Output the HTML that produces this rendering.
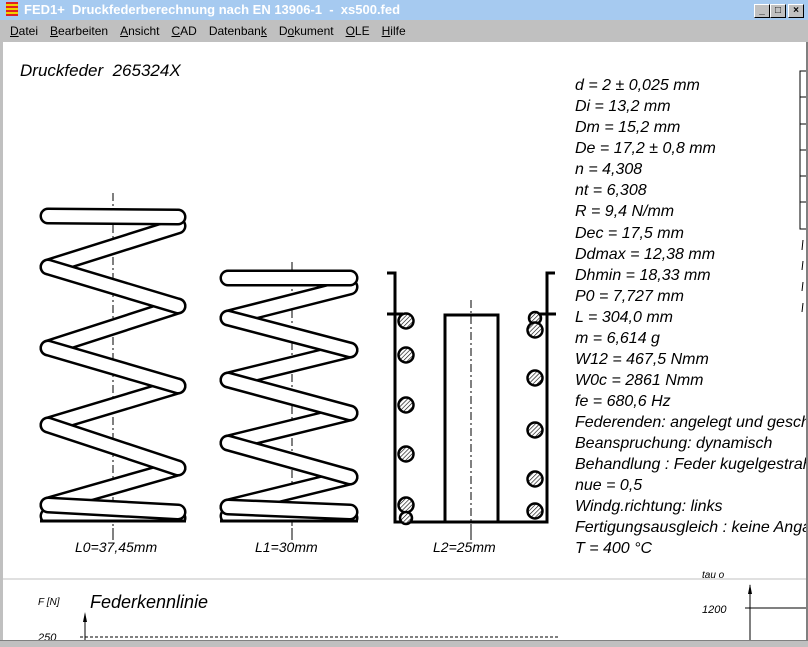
<!DOCTYPE html>
<html><head><meta charset="utf-8"><style>
html,body{margin:0;padding:0;width:808px;height:646px;overflow:hidden;background:#c0c0c0;font-family:"Liberation Sans",sans-serif}
.title{position:absolute;left:0;top:0;width:808px;height:20px;background:#a6caf0;color:#fff;font-weight:bold;font-size:13px;line-height:20px}
.menu{position:absolute;left:0;top:20px;width:808px;height:22px;background:#c0c0c0;font-size:12px;line-height:22px}
.menu span{margin-left:10px;margin-right:2px}
.client{position:absolute;left:3px;top:42px;width:803px;height:598px;background:#fff;overflow:hidden}
.btn{position:absolute;top:4px;width:14px;height:12px;background:#c0c0c0;border:1px solid;border-color:#fff #000 #000 #fff;font-size:10px;line-height:12px;text-align:center;color:#000;font-weight:bold}
</style></head><body>
<div class="title"><span style="display:inline-block;width:12px;height:14px;background:repeating-linear-gradient(#e02020 0 2px,#f0d000 2px 4px);vertical-align:-2px;margin:0 6px 0 6px"></span>FED1+&nbsp; Druckfederberechnung nach EN 13906-1&nbsp; - &nbsp;xs500.fed</div>
<div class="btn" style="left:754px">_</div><div class="btn" style="left:770px">□</div><div class="btn" style="left:788px">×</div>
<div class="menu"><span><u>D</u>atei</span><span><u>B</u>earbeiten</span><span><u>A</u>nsicht</span><span><u>C</u>AD</span><span>Datenban<u>k</u></span><span>D<u>o</u>kument</span><span><u>O</u>LE</span><span><u>H</u>ilfe</span></div>
<div class="client">
<svg width="803" height="598" viewBox="3 42 803 598" xmlns="http://www.w3.org/2000/svg" style="position:absolute;left:0;top:0">
<defs>
<pattern id="h" width="3" height="3" patternUnits="userSpaceOnUse" patternTransform="rotate(45)"><rect width="3" height="3" fill="#fff"/><line x1="0" y1="0" x2="0" y2="3" stroke="#000" stroke-width="1.2"/></pattern>
<clipPath id="c1"><rect x="0" y="200" width="380" height="322"/></clipPath>
</defs>
<g font-family="Liberation Sans" font-style="italic" fill="#000">
<text x="20" y="76" font-size="17">Druckfeder&#160; 265324X</text>
<g font-size="16">
<text x="575" y="90">d = 2 ± 0,025 mm</text>
<text x="575" y="111">Di = 13,2 mm</text>
<text x="575" y="132">Dm = 15,2 mm</text>
<text x="575" y="153">De = 17,2 ± 0,8 mm</text>
<text x="575" y="174">n = 4,308</text>
<text x="575" y="195">nt = 6,308</text>
<text x="575" y="216">R = 9,4 N/mm</text>
<text x="575" y="238">Dec = 17,5 mm</text>
<text x="575" y="259">Ddmax = 12,38 mm</text>
<text x="575" y="280">Dhmin = 18,33 mm</text>
<text x="575" y="301">P0 = 7,727 mm</text>
<text x="575" y="322">L = 304,0 mm</text>
<text x="575" y="343">m = 6,614 g</text>
<text x="575" y="364">W12 = 467,5 Nmm</text>
<text x="575" y="385">W0c = 2861 Nmm</text>
<text x="575" y="406">fe = 680,6 Hz</text>
<text x="575" y="427">Federenden: angelegt und geschliffen</text>
<text x="575" y="448">Beanspruchung: dynamisch</text>
<text x="575" y="469">Behandlung : Feder kugelgestrahlt</text>
<text x="575" y="490">nue = 0,5</text>
<text x="575" y="511">Windg.richtung: links</text>
<text x="575" y="532">Fertigungsausgleich : keine Angabe</text>
<text x="575" y="553">T = 400 °C</text>
<text x="75" y="552" font-size="14">L0=37,45mm</text>
<text x="255" y="552" font-size="14">L1=30mm</text>
<text x="433" y="552" font-size="14">L2=25mm</text>
</g>
<text x="90" y="608" font-size="18">Federkennlinie</text>
<text x="38" y="605" font-size="10">F [N]</text>
<text x="38" y="641" font-size="11">250</text>
<text x="702" y="578" font-size="10">tau o</text>
<text x="702" y="613" font-size="11">1200</text>
</g>
<rect x="800" y="71" width="10" height="158" fill="#fff" stroke="#000"/>
<g stroke="#000"><line x1="800" y1="97" x2="806" y2="97"/><line x1="800" y1="124" x2="806" y2="124"/><line x1="800" y1="150" x2="806" y2="150"/><line x1="800" y1="176" x2="806" y2="176"/><line x1="800" y1="202" x2="806" y2="202"/>
<line x1="803" y1="240" x2="802" y2="250"/><line x1="803" y1="261" x2="802" y2="270"/><line x1="803" y1="282" x2="802" y2="291"/><line x1="803" y1="303" x2="802" y2="312"/></g>
<line x1="0" y1="579" x2="808" y2="579" stroke="#c0c0c0" stroke-width="1"/>
<line x1="85" y1="614" x2="85" y2="646" stroke="#000"/>
<path d="M85,612 l-2,10 h4 z" fill="#000"/>
<line x1="80" y1="637" x2="560" y2="637" stroke="#000" stroke-dasharray="3,2"/>
<line x1="750" y1="585" x2="750" y2="646" stroke="#000"/>
<path d="M750,584 l-2,10 h4 z" fill="#000"/>
<line x1="745" y1="608" x2="808" y2="608" stroke="#000"/>
<g stroke="#000" stroke-dasharray="8,3,2,3">
<line x1="113" y1="193" x2="113" y2="528"/>
<line x1="292" y1="262" x2="292" y2="528"/>
<line x1="471" y1="300" x2="471" y2="538"/>
</g>
<g stroke="#000" stroke-width="1"><line x1="113" y1="528" x2="113" y2="540"/><line x1="292" y1="528" x2="292" y2="540"/><line x1="471" y1="528" x2="471" y2="540"/></g>
<g clip-path="url(#c1)" stroke-linecap="round" stroke-linejoin="round" fill="none">
<g stroke="#000" stroke-width="17">
<path d="M178,226 L48,267 M178,306 L48,348 M178,386 L48,425 M178,468 L48,505 M48,516 L178,518"/>
<path d="M350,287 L228,318 M350,350 L228,380 M350,413 L228,443 M350,477 L228,507 M228,516 L350,518"/>
</g>
<g stroke="#fff" stroke-width="12">
<path d="M178,226 L48,267 M178,306 L48,348 M178,386 L48,425 M178,468 L48,505 M48,516 L178,518"/>
<path d="M350,287 L228,318 M350,350 L228,380 M350,413 L228,443 M350,477 L228,507 M228,516 L350,518"/>
</g>
<g stroke="#000" stroke-width="17">
<path d="M48,216 L178,217 M48,267 L178,306 M48,348 L178,386 M48,425 L178,468 M48,505 L178,512"/>
<path d="M228,278 L350,278 M228,318 L350,350 M228,380 L350,413 M228,443 L350,477 M228,507 L350,512"/>
</g>
<g stroke="#fff" stroke-width="12">
<path d="M48,216 L178,217 M48,267 L178,306 M48,348 L178,386 M48,425 L178,468 M48,505 L178,512"/>
<path d="M228,278 L350,278 M228,318 L350,350 M228,380 L350,413 M228,443 L350,477 M228,507 L350,512"/>
</g>
</g>
<g stroke="#000" stroke-width="3" fill="none">
<line x1="40" y1="521" x2="186" y2="521"/>
<line x1="220" y1="521" x2="358" y2="521"/>
</g>
<g stroke="#000" stroke-width="3" fill="none">
<path d="M387,273 H395 V522 H547 V273 H555"/>
<line x1="387" y1="314" x2="403" y2="314"/>
<line x1="540" y1="314" x2="556" y2="314"/>
<path d="M445,522 V315 H498 V522"/>
</g>
<g stroke="#000" stroke-width="2.5" fill="url(#h)">
<circle cx="406" cy="321" r="7.5"/><circle cx="406" cy="355" r="7.5"/><circle cx="406" cy="405" r="7.5"/><circle cx="406" cy="454" r="7.5"/><circle cx="406" cy="505" r="7.5"/><circle cx="406" cy="518" r="6"/>
<circle cx="535" cy="318" r="6"/><circle cx="535" cy="330" r="7.5"/><circle cx="535" cy="378" r="7.5"/><circle cx="535" cy="430" r="7.5"/><circle cx="535" cy="479" r="7.5"/><circle cx="535" cy="511" r="7.5"/>
</g>
</svg>
</div>
<div style="position:absolute;left:806px;top:42px;width:2px;height:604px;background:#808080"></div>
<div style="position:absolute;left:0;top:640px;width:808px;height:6px;background:#c0c0c0;border-top:1px solid #808080"></div>
</body></html>
